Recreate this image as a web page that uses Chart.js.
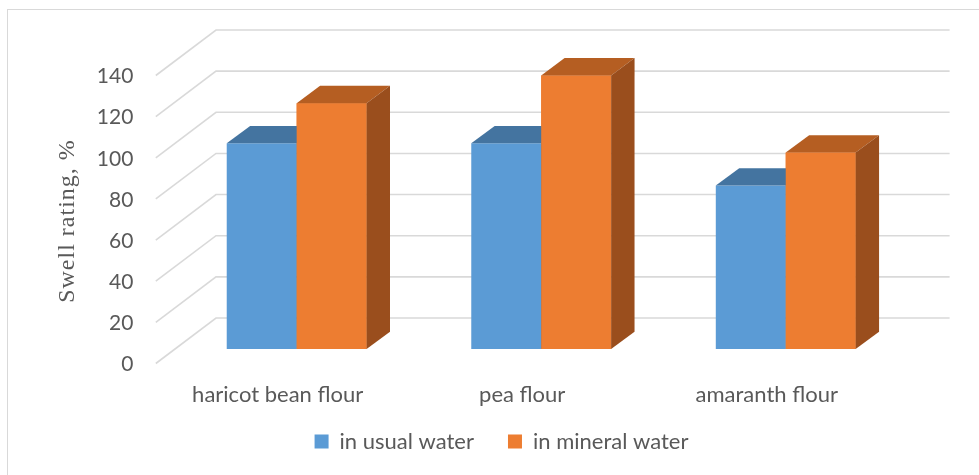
<!DOCTYPE html>
<html>
<head>
<meta charset="utf-8">
<script src="https://cdn.jsdelivr.net/npm/chart.js@4.4.1/dist/chart.umd.min.js"></script>
<style>
  html, body { margin: 0; padding: 0; background: #fff; }
  canvas { display: block; }
</style>
</head>
<body>
<canvas id="swellChart" width="979" height="475"></canvas>
<script>
const categories = ['haricot bean flour', 'pea flour', 'amaranth flour'];
const usualWater = [100, 100, 79.5];
const mineralWater = [119.5, 133, 95.5];
const seriesNames = ['in usual water', 'in mineral water'];
const yMin = 0, yMax = 140, yStep = 20;

// depth offsets (relative to the bar front plane)
const BACK = { x: 41.6, y: -31 };
const FRONT = { x: -18.6, y: 14.5 };
const DEPTH = { x: 23.4, y: -17.3 };
const GRID = '#d9d9d9';
const TEXT = '#595959';

const shades = [
  { top: '#4474a0', side: '#3a6691' },
  { top: '#b55e22', side: '#9a4e1d' }
];

function poly(ctx, pts, color) {
  ctx.beginPath();
  ctx.moveTo(pts[0][0], pts[0][1]);
  for (let i = 1; i < pts.length; i++) ctx.lineTo(pts[i][0], pts[i][1]);
  ctx.closePath();
  ctx.fillStyle = color;
  ctx.fill();
}

function drawDepth(ctx, meta, sh) {
  meta.data.forEach(bar => {
    const l = bar.x - bar.width / 2, r = bar.x + bar.width / 2;
    const t = bar.y, b = bar.base;
    poly(ctx, [[l, t], [r, t], [r + DEPTH.x, t + DEPTH.y], [l + DEPTH.x, t + DEPTH.y]], sh.top);
    poly(ctx, [[r, t], [r + DEPTH.x, t + DEPTH.y], [r + DEPTH.x, b + DEPTH.y], [r, b]], sh.side);
  });
}

const pseudo3d = {
  id: 'pseudo3d',
  afterLayout(chart) {
    // pull the legend row up to where it sits in the original
    const lg = chart.legend;
    const h = lg.bottom - lg.top;
    lg.top = 396.5;
    lg.bottom = lg.top + h;
  },
  beforeDraw(chart) {
    const ctx = chart.ctx;
    ctx.save();
    ctx.fillStyle = '#fff';
    ctx.fillRect(0, 0, chart.width, chart.height);
    ctx.strokeStyle = GRID;
    ctx.lineWidth = 1;
    ctx.strokeRect(7.5, 9.5, chart.width + 20, chart.height + 20);
    ctx.restore();
  },
  beforeDatasetsDraw(chart) {
    const { ctx, chartArea } = chart;
    const y = chart.scales.y;
    ctx.save();
    ctx.strokeStyle = GRID;
    ctx.lineWidth = 1.6;
    y.ticks.forEach(t => {
      const py = y.getPixelForValue(t.value);
      ctx.beginPath();
      ctx.moveTo(chartArea.left + FRONT.x, py + FRONT.y);
      ctx.lineTo(chartArea.left + BACK.x, py + BACK.y);
      ctx.lineTo(chartArea.right + BACK.x, py + BACK.y);
      ctx.stroke();
    });
    ctx.restore();
  },
  afterDatasetsDraw(chart) {
    const ctx = chart.ctx;
    const blue = chart.getDatasetMeta(0);
    const orange = chart.getDatasetMeta(1);
    ctx.save();
    drawDepth(ctx, blue, shades[0]);
    // orange front faces go back on top of the blue tops/sides
    orange.data.forEach(bar => bar.draw(ctx));
    drawDepth(ctx, orange, shades[1]);
    ctx.restore();
  },
  afterDraw(chart) {
    const ctx = chart.ctx;
    ctx.save();
    ctx.translate(74, 221);
    ctx.rotate(-Math.PI / 2);
    ctx.font = '24px "Liberation Serif", "Times New Roman", serif';
    ctx.letterSpacing = '1px';
    ctx.fillStyle = TEXT;
    ctx.textAlign = 'center';
    ctx.textBaseline = 'alphabetic';
    ctx.fillText('Swell rating, %', 0, 0);
    ctx.restore();
  }
};

Chart.defaults.font.family = 'Lato, "Open Sans", sans-serif';
Chart.defaults.font.size = 21;
Chart.defaults.color = TEXT;

new Chart(document.getElementById('swellChart'), {
  type: 'bar',
  data: {
    labels: categories,
    datasets: [
      { label: seriesNames[0], data: usualWater, backgroundColor: '#5b9bd5' },
      { label: seriesNames[1], data: mineralWater, backgroundColor: '#ed7d31' }
    ]
  },
  options: {
    responsive: false,
    animation: false,
    layout: { padding: { left: 95, right: 71, top: 61, bottom: 2 } },
    datasets: { bar: { categoryPercentage: 0.572, barPercentage: 1.0, borderWidth: 0 } },
    scales: {
      x: {
        grid: { display: false, drawTicks: false },
        border: { display: false },
        ticks: { padding: 33, labelOffset: -19, maxRotation: 0, autoSkip: false, font: { size: 22 } },
        afterFit(scale) { scale.height = 58; }
      },
      y: {
        min: yMin,
        max: yMax,
        grid: { display: false, drawTicks: false },
        border: { display: false },
        ticks: { stepSize: yStep, padding: 41, labelOffset: 15.5 },
        afterFit(scale) { scale.width = 79.4; }
      }
    },
    plugins: {
      legend: {
        position: 'bottom',
        labels: {
          font: { size: 22 },
          boxWidth: 14,
          boxHeight: 14,
          padding: 34
        }
      },
      tooltip: { enabled: false }
    }
  },
  plugins: [pseudo3d]
});
</script>
</body>
</html>
